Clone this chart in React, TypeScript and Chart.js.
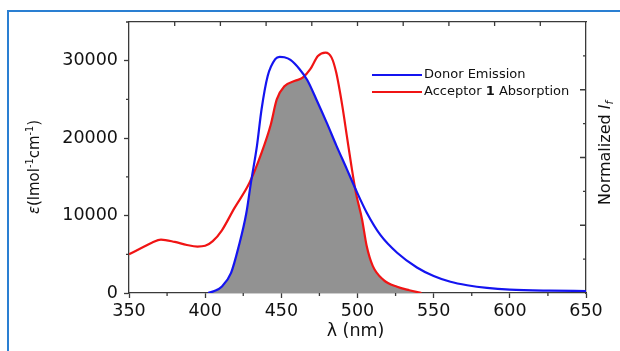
import { useEffect, useRef } from 'react';
import { Chart, registerables } from 'chart.js';

Chart.register(...registerables);

// ---- data ----
const emissionWavelengths = [402, 406, 411, 417, 422, 427, 430, 434, 437, 441, 446, 449, 452, 456, 462, 467, 473, 480, 486, 493, 499, 506, 515, 526, 539, 550, 561, 572, 585, 600, 626, 650];
const emissionValues = [0, 250, 850, 2600, 6000, 10300, 14200, 19000, 23700, 28000, 30200, 30500, 30450, 30100, 28900, 27500, 25000, 21900, 19100, 16000, 13300, 10400, 7500, 5200, 3300, 2200, 1450, 1000, 650, 430, 300, 260];

const absorptionWavelengths = [350, 360, 365, 371, 380, 388, 395, 400, 405, 411, 419, 429, 437, 443, 447, 452, 459, 464, 469, 474, 479, 483, 486, 490, 493, 496, 499, 503, 506, 510, 517, 526, 534, 542];
const absorptionValues = [5000, 6000, 6500, 6900, 6600, 6200, 6000, 6100, 6700, 8100, 10900, 14200, 18100, 21700, 25000, 26700, 27400, 27800, 28900, 30600, 31050, 30400, 28500, 24200, 20300, 16400, 12900, 9500, 6100, 3500, 1700, 800, 350, 0];

const seriesLabels = ['Donor Emission', 'Acceptor 1 Absorption'];
const xMin = 350;
const xMax = 650;
const xStep = 25;
const xLabelEvery = 50;
const yMax = 35000;
const yStep = 5000;
const yLabelEvery = 10000;
const topDivisions = 10;
const rightDivisions = 8;

const FONT = 'DejaVu Sans';
const AXIS = '#3a3a3a';
const TEXT = '#111111';
const BLUE = '#1414f0';
const RED = '#f01414';
const OVERLAP = '#929292';

function tracePath(ctx: CanvasRenderingContext2D, pts: any[], y0: number) {
  ctx.moveTo(pts[0].x, y0);
  ctx.lineTo(pts[0].x, pts[0].y);
  for (let i = 1; i < pts.length; i++) {
    const p = pts[i - 1];
    const c = pts[i];
    if (p.cp2x !== undefined && c.cp1x !== undefined) {
      ctx.bezierCurveTo(p.cp2x, p.cp2y, c.cp1x, c.cp1y, c.x, c.y);
    } else {
      ctx.lineTo(c.x, c.y);
    }
  }
  ctx.lineTo(pts[pts.length - 1].x, y0);
  ctx.closePath();
}

const overlapPlugin = {
  id: 'overlap',
  beforeDatasetsDraw(chart: any) {
    const { ctx, chartArea, scales } = chart;
    const y0 = scales.y.getPixelForValue(0);
    const m0 = chart.getDatasetMeta(0);
    const m1 = chart.getDatasetMeta(1);
    m0.dataset.updateControlPoints(chartArea, 'x');
    m1.dataset.updateControlPoints(chartArea, 'x');
    ctx.save();
    ctx.beginPath();
    ctx.rect(chartArea.left, chartArea.top, chartArea.right - chartArea.left, chartArea.bottom - chartArea.top);
    ctx.clip();
    ctx.beginPath();
    tracePath(ctx, m0.data, y0);
    ctx.clip();
    ctx.beginPath();
    tracePath(ctx, m1.data, y0);
    ctx.fillStyle = OVERLAP;
    ctx.fill();
    ctx.restore();
  },
};

type Seg = { t: string; italic?: boolean; bold?: boolean; sup?: boolean; sub?: boolean };

function drawSegments(ctx: CanvasRenderingContext2D, segs: Seg[], size: number, cx: number, cy: number, rotate: boolean) {
  const fontFor = (s: Seg) => {
    const sz = s.sup || s.sub ? size * 0.65 : size;
    return `${s.italic ? 'italic ' : ''}${s.bold ? 'bold ' : ''}${sz}px "${FONT}"`;
  };
  let total = 0;
  const widths = segs.map((s) => {
    ctx.font = fontFor(s);
    const w = ctx.measureText(s.t).width;
    total += w;
    return w;
  });
  ctx.save();
  ctx.translate(cx, cy);
  if (rotate) ctx.rotate(-Math.PI / 2);
  ctx.fillStyle = TEXT;
  ctx.textBaseline = 'alphabetic';
  ctx.textAlign = 'left';
  let x = -total / 2;
  const base = size * 0.36;
  segs.forEach((s, i) => {
    ctx.font = fontFor(s);
    let y = base;
    if (s.sup) y = base - size * 0.42;
    if (s.sub) y = base + size * 0.22;
    ctx.fillText(s.t, x, y);
    x += widths[i];
  });
  ctx.restore();
}

const decorPlugin = {
  id: 'decor',
  afterDraw(chart: any) {
    const { ctx, chartArea, scales } = chart;
    const { left, right, top, bottom } = chartArea;
    ctx.save();
    ctx.strokeStyle = AXIS;
    ctx.lineWidth = 1.3;
    ctx.beginPath();
    for (let v = xMin; v <= xMax; v += xStep) {
      if (v % xLabelEvery === 0) continue;
      const px = scales.x.getPixelForValue(v);
      ctx.moveTo(px, bottom);
      ctx.lineTo(px, bottom + 3);
    }
    for (let v = 0; v <= yMax; v += yStep) {
      if (v % yLabelEvery === 0) continue;
      const py = scales.y.getPixelForValue(v);
      ctx.moveTo(left, py);
      ctx.lineTo(left - 3, py);
    }
    for (let i = 1; i < topDivisions; i++) {
      const px = scales.x2.getPixelForValue(i);
      ctx.moveTo(px, top);
      ctx.lineTo(px, top + 4);
    }
    for (let i = 1; i < rightDivisions; i++) {
      const py = scales.y2.getPixelForValue(i);
      ctx.moveTo(right, py);
      ctx.lineTo(right - (i % 2 === 0 ? 6 : 3), py);
    }
    ctx.stroke();
    ctx.restore();

    const legendX = 372;
    const legendLen = 50;
    const rows = [
      { y: 75, color: BLUE, segs: [{ t: seriesLabels[0] }] as Seg[] },
      { y: 92, color: RED, segs: [{ t: 'Acceptor ' }, { t: '1', bold: true }, { t: ' Absorption' }] as Seg[] },
    ];
    rows.forEach((r) => {
      ctx.save();
      ctx.strokeStyle = r.color;
      ctx.lineWidth = 2;
      ctx.beginPath();
      ctx.moveTo(legendX, r.y);
      ctx.lineTo(legendX + legendLen, r.y);
      ctx.stroke();
      ctx.fillStyle = TEXT;
      ctx.textBaseline = 'middle';
      ctx.textAlign = 'left';
      let x = legendX + legendLen + 2;
      r.segs.forEach((s) => {
        ctx.font = `${s.bold ? 'bold ' : ''}13px "${FONT}"`;
        ctx.fillText(s.t, x, r.y);
        x += ctx.measureText(s.t).width;
      });
      ctx.restore();
    });

    drawSegments(ctx, [{ t: 'λ (nm)' }], 17.5, (left + right) / 2 - 2, 330, false);
    drawSegments(
      ctx,
      [{ t: 'ε', italic: true }, { t: '(lmol' }, { t: '-1', sup: true }, { t: 'cm' }, { t: '-1', sup: true }, { t: ')' }],
      15,
      34,
      167,
      true,
    );
    drawSegments(ctx, [{ t: 'Normalized ' }, { t: 'I', italic: true }, { t: 'f', italic: true, sub: true }], 16, 604, 153, true);
  },
};

export default function App() {
  const canvasRef = useRef<HTMLCanvasElement | null>(null);

  useEffect(() => {
    const canvas = canvasRef.current;
    if (!canvas) return;
    const tickFont = { family: FONT, size: 17.5 };
    const chart = new Chart(canvas, {
      type: 'line',
      data: {
        datasets: [
          {
            label: seriesLabels[0],
            data: emissionWavelengths.map((x, i) => ({ x, y: emissionValues[i] })),
            borderColor: BLUE,
            borderWidth: 2.2,
            pointRadius: 0,
            cubicInterpolationMode: 'monotone',
            fill: false,
            xAxisID: 'x',
            yAxisID: 'y',
          },
          {
            label: seriesLabels[1],
            data: absorptionWavelengths.map((x, i) => ({ x, y: absorptionValues[i] })),
            borderColor: RED,
            borderWidth: 2.2,
            pointRadius: 0,
            cubicInterpolationMode: 'monotone',
            fill: false,
            xAxisID: 'x',
            yAxisID: 'y',
          },
        ],
      },
      options: {
        responsive: false,
        animation: false,
        devicePixelRatio: 1,
        layout: { padding: 0 },
        plugins: { legend: { display: false }, tooltip: { enabled: false } },
        scales: {
          x: {
            type: 'linear',
            position: 'bottom',
            min: xMin,
            max: xMax,
            ticks: {
              stepSize: xStep,
              autoSkip: false,
              maxRotation: 0,
              padding: 3,
              color: TEXT,
              font: tickFont,
              callback: (v: any) => (Number(v) % xLabelEvery === 0 ? String(v) : ''),
            },
            grid: {
              drawOnChartArea: false,
              tickLength: 5,
              tickWidth: 1.3,
              tickColor: (c: any) => (c.tick && c.tick.value % xLabelEvery === 0 ? AXIS : 'rgba(0,0,0,0)'),
            },
            border: { color: AXIS, width: 1.3 },
            afterFit: (s: any) => {
              s.height = 58;
            },
          },
          x2: {
            type: 'linear',
            position: 'top',
            min: 0,
            max: topDivisions,
            ticks: { display: false, stepSize: 1 },
            grid: { drawOnChartArea: false, drawTicks: false },
            border: { color: AXIS, width: 1.3 },
            afterFit: (s: any) => {
              s.height = 22;
            },
          },
          y: {
            type: 'linear',
            position: 'left',
            min: 0,
            max: yMax,
            ticks: {
              stepSize: yStep,
              padding: 6,
              color: TEXT,
              font: tickFont,
              callback: (v: any) => (Number(v) % yLabelEvery === 0 ? String(v) : ''),
            },
            grid: {
              drawOnChartArea: false,
              tickLength: 5,
              tickWidth: 1.3,
              tickColor: (c: any) => (c.tick && c.tick.value % yLabelEvery === 0 ? AXIS : 'rgba(0,0,0,0)'),
            },
            border: { color: AXIS, width: 1.3 },
            afterFit: (s: any) => {
              s.width = 129;
            },
          },
          y2: {
            type: 'linear',
            position: 'right',
            min: 0,
            max: rightDivisions,
            ticks: { display: false, stepSize: 1 },
            grid: { drawOnChartArea: false, drawTicks: false },
            border: { color: AXIS, width: 1.3 },
            afterFit: (s: any) => {
              s.width = 34;
            },
          },
        },
      } as any,
      plugins: [overlapPlugin, decorPlugin],
    });
    return () => chart.destroy();
  }, []);

  return (
    <div
      style={{
        position: 'absolute',
        left: 0,
        top: 0,
        width: 620,
        height: 351,
        overflow: 'hidden',
        background: '#ffffff',
      }}
    >
      <div
        style={{
          position: 'absolute',
          left: 7,
          top: 10,
          width: 700,
          height: 400,
          border: '2px solid #2a7fd2',
          boxSizing: 'border-box',
        }}
      />
      <canvas
        ref={canvasRef}
        width={620}
        height={351}
        style={{ position: 'absolute', left: 0, top: 0, width: 620, height: 351 }}
      />
    </div>
  );
}
